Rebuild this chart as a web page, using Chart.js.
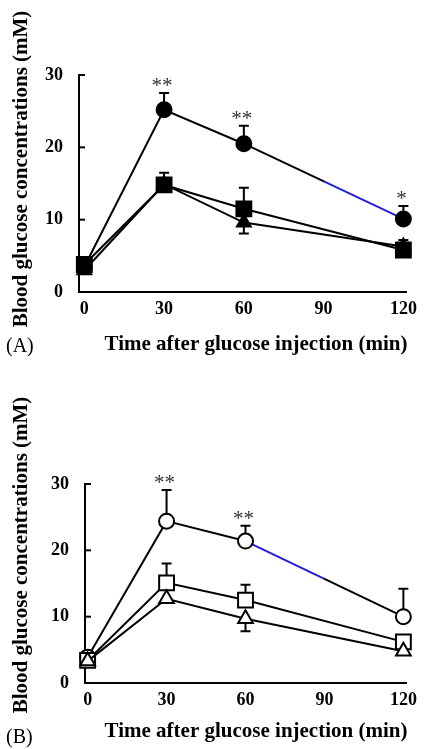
<!DOCTYPE html>
<html>
<head>
<meta charset="utf-8">
<script src="https://cdn.jsdelivr.net/npm/chart.js@4.4.0/dist/chart.umd.min.js"></script>
<style>
  html, body { margin: 0; padding: 0; background: #fff; }
  #wrapA { position: absolute; left: 0; top: 0; width: 424px; height: 372px; }
  #wrapB { position: absolute; left: 0; top: 372px; width: 424px; height: 377px; }
</style>
</head>
<body>
<div id="wrapA"><canvas id="chartA" width="424" height="372"></canvas></div>
<div id="wrapB"><canvas id="chartB" width="424" height="377"></canvas></div>
<script>
const times = [0, 30, 60, 120];
const xTicks = [0, 30, 60, 90, 120];
const yTicks = [0, 10, 20, 30];

// panel A, filled markers. error < 0 means the bar points down
const aCircle = [3.5, 25.2, 20.5, 10.1];
const aCircleErr = [0, 2.3, 2.5, 1.8];
const aSquare = [3.8, 14.8, 11.5, 5.8];
const aSquareErr = [0, 1.7, 2.9, 0];
const aTriangle = [3.0, 14.9, 9.6, 6.3];
const aTriangleErr = [0, 0, -1.5, 0.9];
const aStars = ['', '**', '**', '*'];

// panel B, open markers
const bCircle = [3.9, 24.4, 21.4, 10.0];
const bCircleErr = [0, 4.7, 2.3, 4.2];
const bSquare = [3.4, 15.1, 12.5, 6.2];
const bSquareErr = [0, 2.9, 2.3, 0];
const bTriangle = [3.3, 12.7, 9.7, 4.8];
const bTriangleErr = [0, 0, -1.9, 0];
const bStars = ['', '**', '**', ''];

const yTitle = 'Blood glucose concentrations (mM)';
const xTitle = 'Time after glucose injection (min)';
const SERIF = '"Liberation Serif", "Times New Roman", serif';
const BLUE = '#1f1fd8';

// draws error bars (behind markers), inward y ticks, titles and stars
const decorations = {
  id: 'decorations',
  beforeDatasetsDraw(chart) {
    const cfg = chart.options.plugins.decorations;
    const ctx = chart.ctx;
    const xs = chart.scales.x, ys = chart.scales.y;
    ctx.save();
    ctx.strokeStyle = '#000';
    ctx.lineWidth = 2;
    cfg.series.forEach(s => {
      s.err.forEach((e, i) => {
        if (!e) return;
        const x = xs.getPixelForValue(times[i]);
        const y0 = ys.getPixelForValue(s.values[i]);
        const y1 = ys.getPixelForValue(s.values[i] + e);
        ctx.beginPath();
        ctx.moveTo(x, y0);
        ctx.lineTo(x, y1);
        ctx.moveTo(x - 5, y1);
        ctx.lineTo(x + 5, y1);
        ctx.stroke();
      });
    });
    ctx.restore();
  },
  afterDraw(chart) {
    const cfg = chart.options.plugins.decorations;
    const ctx = chart.ctx;
    const xs = chart.scales.x, ys = chart.scales.y;
    const area = chart.chartArea;
    ctx.save();
    // inward tick marks on the y axis
    ctx.strokeStyle = '#000';
    ctx.lineWidth = 2;
    ys.ticks.forEach(t => {
      if (t.value === 0) return;
      const y = ys.getPixelForValue(t.value);
      ctx.beginPath();
      ctx.moveTo(area.left, y);
      ctx.lineTo(area.left + 6, y);
      ctx.stroke();
    });

    ctx.fillStyle = '#000';
    // y title
    ctx.save();
    ctx.translate(cfg.yTitleX, cfg.yTitleY);
    ctx.rotate(-Math.PI / 2);
    ctx.font = 'bold 21px ' + SERIF;
    ctx.textAlign = 'center';
    ctx.textBaseline = 'middle';
    ctx.fillText(yTitle, 0, 0);
    ctx.restore();

    // x title
    ctx.font = 'bold 21px ' + SERIF;
    ctx.textAlign = 'center';
    ctx.textBaseline = 'middle';
    ctx.fillText(xTitle, 256, cfg.xTitleY);

    // panel label
    ctx.font = '20px ' + SERIF;
    ctx.textAlign = 'left';
    ctx.fillText(cfg.label, 6, cfg.labelY);

    // significance stars above the circle error bars
    ctx.font = '21px ' + SERIF;
    ctx.fillStyle = '#333';
    ctx.textAlign = 'center';
    ctx.textBaseline = 'alphabetic';
    const circle = cfg.series[cfg.starSeries];
    cfg.stars.forEach((s, i) => {
      if (!s) return;
      const x = xs.getPixelForValue(times[i]);
      const top = ys.getPixelForValue(circle.values[i] + Math.max(circle.err[i], 0));
      ctx.fillText(s, x - 2, top - 1);
    });
    ctx.restore();
  }
};

function blueSegment(from, start, end) {
  return c => {
    if (c.p0DataIndex !== from) return '#000';
    const g = c.chart.ctx.createLinearGradient(c.p0.x, 0, c.p1.x, 0);
    g.addColorStop(0, start > 0 ? '#000' : BLUE);
    g.addColorStop(start, start > 0 ? '#000' : BLUE);
    g.addColorStop(start, BLUE);
    g.addColorStop(end, BLUE);
    g.addColorStop(end, end < 1 ? '#000' : BLUE);
    g.addColorStop(1, end < 1 ? '#000' : BLUE);
    return g;
  };
}

function makeChart(id, cfg) {
  const datasets = cfg.series.map(s => ({
    data: times.map((t, i) => ({ x: t, y: s.values[i] })),
    showLine: true,
    borderColor: '#000',
    borderWidth: 2,
    pointStyle: s.style,
    pointRadius: s.radius,
    pointHoverRadius: s.radius,
    pointBackgroundColor: cfg.filled ? '#000' : '#fff',
    pointBorderColor: '#000',
    pointBorderWidth: 2,
    clip: false,
    segment: s.segment ? { borderColor: s.segment } : undefined
  }));

  const tickFont = { family: SERIF, size: 18, weight: 'bold' };

  return new Chart(document.getElementById(id), {
    type: 'scatter',
    data: { datasets },
    options: {
      responsive: false,
      animation: false,
      devicePixelRatio: 1,
      layout: { padding: { left: 0, top: cfg.top, right: 15, bottom: 0 } },
      plugins: {
        legend: { display: false },
        tooltip: { enabled: false },
        decorations: cfg
      },
      scales: {
        x: {
          type: 'linear',
          min: cfg.xMin,
          max: 121,
          afterBuildTicks: s => { s.ticks = xTicks.map(v => ({ value: v })); },
          afterFit: s => { s.height = cfg.height - cfg.bottom; },
          grid: { display: false, drawTicks: false },
          border: { color: '#000', width: 2 },
          ticks: { color: '#000', padding: 7, maxRotation: 0, font: tickFont }
        },
        y: {
          min: 0,
          max: 30,
          afterBuildTicks: s => { s.ticks = yTicks.map(v => ({ value: v })); },
          afterFit: s => { s.width = cfg.left; },
          grid: { display: false, drawTicks: false },
          border: { color: '#000', width: 2 },
          ticks: { color: '#000', padding: 16, font: tickFont }
        }
      }
    },
    plugins: [decorations]
  });
}

// dataset 0 is drawn on top
makeChart('chartA', {
  filled: true, top: 75, bottom: 292, left: 79, height: 372, xMin: -2,
  yTitleX: 22, yTitleY: 169, xTitleY: 345, label: '(A)', labelY: 347,
  stars: aStars, starSeries: 2,
  series: [
    { values: aTriangle, err: aTriangleErr, style: 'triangle', radius: 8 },
    { values: aSquare, err: aSquareErr, style: 'rect', radius: 10.5 },
    { values: aCircle, err: aCircleErr, style: 'circle', radius: 7.5, segment: blueSegment(2, 0.5, 1) }
  ]
});

makeChart('chartB', {
  filled: false, top: 112, bottom: 311, left: 85, height: 377, xMin: -1,
  yTitleX: 22, yTitleY: 183, xTitleY: 360, label: '(B)', labelY: 366,
  stars: bStars, starSeries: 2,
  series: [
    { values: bTriangle, err: bTriangleErr, style: 'triangle', radius: 8.5 },
    { values: bSquare, err: bSquareErr, style: 'rect', radius: 10.5 },
    { values: bCircle, err: bCircleErr, style: 'circle', radius: 7.5, segment: blueSegment(2, 0, 0.5) }
  ]
});
</script>
</body>
</html>
